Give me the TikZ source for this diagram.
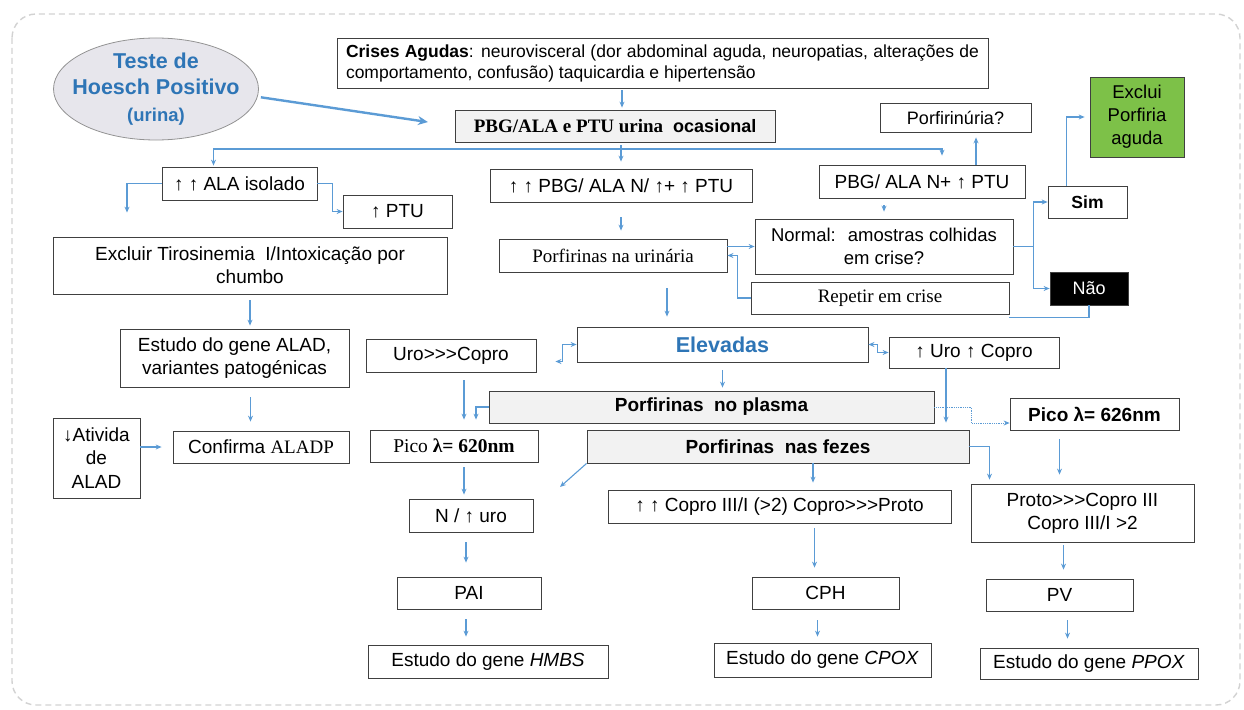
\documentclass[tikz,border=0pt]{standalone}
\usepackage{fontspec}
\setmainfont{Liberation Sans}
\setsansfont{Liberation Sans}
\newfontfamily\tnr{Liberation Serif}
\usepackage{xcolor}
\usetikzlibrary{shapes.geometric, arrows.meta, calc}

\definecolor{linkblue}{RGB}{91,155,213}
\definecolor{titleblue}{RGB}{46,117,182}
\definecolor{boxline}{RGB}{64,64,64}
\definecolor{lightfill}{RGB}{242,242,242}
\definecolor{ovalfill}{RGB}{231,230,236}
\definecolor{okgreen}{RGB}{125,193,72}
\definecolor{framegray}{RGB}{210,210,210}
\newcommand{\setsz}[2]{\fontsize{#1}{#2}\selectfont}
\newcommand{\ggg}{>{}>{}>}

\begin{document}
\begin{tikzpicture}[
  x=1pt, y=-1pt,
  box/.style     = {draw=boxline, line width=0.8pt, fill=white, align=center,
                    inner sep=2pt, font=\setsz{19}{23}},
  greybox/.style = {box, fill=lightfill},
  wh/.style 2 args = {minimum width=#1pt, minimum height=#2pt},
  link/.style    = {linkblue, line width=1.1pt},
  arrow/.style   = {link, -{Stealth[length=6pt, width=5pt]}},
  both/.style    = {link, {Stealth[length=6pt, width=5pt]}-{Stealth[length=6pt, width=5pt]}},
  bigarrow/.style= {linkblue, line width=2.4pt, -{Stealth[length=10pt, width=9pt]}}
]
  \useasboundingbox (0,0) rectangle (1244,709);
  \draw[framegray, line width=1.4pt, dash pattern=on 6pt off 4pt, rounded corners=24pt]
    (12,14) rectangle (1240,705);

  \node[ellipse, draw=gray!85, line width=0.8pt, fill=ovalfill, wh={205}{102},
        inner xsep=-22pt, inner ysep=-4pt,
        align=center, text=titleblue, font=\bfseries\setsz{21.5}{26.5}] (hoesch) at (156,89)
        {Teste de\\Hoesch Positivo\\{\setsz{18.5}{26.5}(urina)}};
  \node[box, wh={651}{50}, align=left, font=\setsz{17.5}{21}] (crises) at (662.5,63)
        {\makebox[633pt][s]{\textbf{Crises Agudas}: neurovisceral (dor abdominal aguda, neuropatias, alterações de}\\
         comportamento, confusão) taquicardia e hipertensão};
  \node[greybox, wh={320}{32}, font=\bfseries\setsz{18}{20}] (pbg) at (615,126)
        {{\tnr\setsz{19}{20}PBG/ALA e PTU urina}\ \ ocasional};

  \node[box, wh={155}{33}] (alaiso) at (239.5,183.5) {↑ ↑ ALA isolado};
  \node[box, wh={109}{33}] (ptu) at (397.5,211.5) {↑ PTU};
  \node[box, wh={394}{57}] (excluir) at (250,265.5) {Excluir Tirosinemia~ I/Intoxicação por\\chumbo};
  \node[box, wh={229}{58}] (alad) at (234.5,358) {Estudo do gene ALAD,\\variantes patogénicas};
  \node[box, wh={87}{80}, font=\setsz{19}{23.5}] (ativ) at (96.5,458) {↓Ativida\\de\\ALAD};
  \node[box, wh={176}{32}] (confirma) at (261,447) {Confirma {\tnr\setsz{19}{20}ALADP}};

  \node[box, wh={262}{33}] (pbgn) at (621,185.5) {↑ ↑ PBG/ ALA N/ ↑+ ↑ PTU};
  \node[box, wh={228}{33}, font=\tnr\setsz{19}{20}] (urin) at (613,255.5) {Porfirinas na urinária};
  \node[box, wh={151}{29}, font=\setsz{18}{20}] (porfu) at (955.5,117.5) {Porfirinúria?};
  \node[box, wh={206}{33}] (pbgn2) at (922,181.5) {PBG/ ALA N+ ↑ PTU};
  \node[box, wh={258}{55}, font=\setsz{18.5}{23}] (normal) at (884,246.5) {Normal:~ amostras colhidas\\em crise?};
  \node[box, wh={79}{32}, font=\bfseries\setsz{17.5}{20}] (sim) at (1087.5,202) {Sim};
  \node[box, wh={94}{80}, fill=okgreen, font=\setsz{18.5}{23}] (exclui) at (1137,117) {Exclui\\Porfiria\\aguda};
  \node[box, wh={78}{33}, fill=black, text=white, font=\setsz{18}{20}] (nao) at (1089,288.5) {Não};
  \node[box, wh={258}{32}, font=\tnr\setsz{19}{20}] (repetir) at (880,298) {Repetir em crise};

  \node[box, wh={291}{35}, text=titleblue, font=\bfseries\setsz{21.5}{23}] (elev) at (722.5,344.5) {Elevadas};
  \node[box, wh={170}{31}] (uroup) at (974,352.5) {↑ Uro ↑ Copro};
  \node[box, wh={170}{33}] (urocop) at (451,355.5) {Uro\ggg Copro};
  \node[greybox, wh={445}{32}, font=\bfseries\setsz{19}{20}] (plasma) at (711.5,407) {Porfirinas~ no plasma};
  \node[greybox, wh={382}{33}, font=\bfseries\setsz{19}{20}] (fezes) at (778,446.5) {Porfirinas~ nas fezes};
  \node[box, wh={169}{32}, font=\bfseries\setsz{19}{20}] (pico626) at (1094.5,414) {Pico λ= 626nm};
  \node[box, wh={168}{32}, font=\tnr\setsz{19.5}{20}] (pico620) at (454,446) {Pico \textbf{λ= 620nm}};

  \node[box, wh={124}{33}] (nuro) at (471,515.5) {N / ↑ uro};
  \node[box, wh={144}{32}] (pai) at (469,593) {PAI};
  \node[box, wh={240}{33}] (hmbs) at (488,661.5) {Estudo do gene \textit{HMBS}};
  \node[box, wh={343}{33}] (copro) at (779.5,506.5) {↑ ↑ Copro III/I (>2) Copro\ggg Proto};
  \node[box, wh={147}{32}] (cph) at (825.5,593) {CPH};
  \node[box, wh={217}{34}] (cpox) at (822.5,660) {Estudo do gene \textit{CPOX}};
  \node[box, wh={223}{58}] (proto) at (1082.5,513) {Proto\ggg Copro III\\Copro III/I >2};
  \node[box, wh={147}{32}] (pv) at (1059.5,595) {PV};
  \node[box, wh={218}{31}] (ppox) at (1089,663.5) {Estudo do gene \textit{PPOX}};

  \coordinate (split) at (620,149);
  \coordinate (fzend) at (560,487);

  \draw[bigarrow, shorten <=2pt, shorten >=27pt] ([yshift=-8pt]hoesch.east) -- (pbg.west);
  \draw[arrow, shorten <=2pt, shorten >=2pt] ([xshift=7pt]pbg.north |- crises.south) -- ([xshift=7pt]pbg.north);
  \draw[arrow, shorten <=3pt, shorten >=7pt] (pbgn.north |- pbg.south) -- (pbgn.north);
  \draw[arrow, shorten >=1pt] (split) -| ([xshift=-26pt]alaiso.north);
  \draw[arrow, shorten >=9pt] (split) -| ([xshift=20pt]pbgn2.north);
  \draw[arrow, shorten >=24pt] (alaiso.west) -| ([xshift=-123pt]excluir.north);
  \draw[arrow] (alaiso.east) -- ++(15,0) |- (ptu.west);
  \draw[arrow, shorten <=6pt, shorten >=3pt] (excluir.south) -- (excluir.south |- alad.north);
  \draw[arrow, shorten <=10pt, shorten >=9pt] ([xshift=16pt]alad.south) -- ([xshift=16pt]alad.south |- confirma.north);
  \draw[arrow, shorten >=11pt] (ativ.east |- confirma.west) -- (confirma.west);

  \draw[arrow, shorten <=15pt, shorten >=8pt] (pbgn.south) -- (pbgn.south |- urin.north);
  \draw[arrow] (normal.west -| urin.east) -- (normal.west);
  \draw[arrow] (repetir.west) -- ++(-13,0) |- (urin.east);
  \draw[arrow, shorten >=5pt] ([xshift=54pt]pbgn2.north) -- ([xshift=54pt]pbgn2.north |- porfu.south);
  \draw[arrow, shorten <=7pt, shorten >=7pt] (normal.north |- pbgn2.south) -- (normal.north);
  \draw[link] (normal.east) -- ++(20,0) coordinate (nsplit);
  \draw[arrow] (nsplit) |- (sim.west);
  \draw[arrow] (nsplit) |- (nao.west);
  \draw[arrow, shorten >=5pt] ([xshift=-21pt]sim.north) |- (exclui.west);
  \draw[link] (nao.south) |- ([yshift=-3pt]repetir.south east);

  \draw[arrow, shorten <=16pt, shorten >=10pt] ([xshift=54pt]urin.south) -- ([xshift=54pt]urin.south |- elev.north);
  \draw[both, shorten >=19pt] (elev.west) -- ++(-14,0) |- ([yshift=-6pt]urocop.east);
  \draw[both] (elev.east) -- ++(9,0) |- (uroup.west);
  \draw[arrow, shorten <=8pt, shorten >=10pt] ([xshift=13pt]urocop.south) -- ([xshift=13pt]urocop.south |- pico620.north);
  \draw[arrow, shorten >=10pt] (plasma.west) -| ([xshift=22pt]pico620.north);
  \draw[arrow, shorten <=8pt, shorten >=3pt] (elev.south) -- (elev.south |- plasma.north);
  \draw[arrow, shorten >=7pt] ([xshift=-28pt]uroup.south) -- ([xshift=-28pt]uroup.south |- fezes.north);
  \draw[arrow, line width=0.8pt, densely dotted] (plasma.east) -- ++(37,0) |- ([yshift=-9pt]pico626.west);
  \draw[arrow, shorten >=4pt] (fezes.east) -| ([xshift=-93pt]proto.north);
  \draw[arrow, shorten <=9pt, shorten >=9pt] ([xshift=-35pt]pico626.south) -- ([xshift=-35pt]pico626.south |- proto.north);
  \draw[arrow, shorten >=7pt] ([xshift=35pt]fezes.south) -- ([xshift=35pt]fezes.south |- copro.north);
  \draw[arrow] (fezes.south west) -- (fzend);

  \draw[arrow, shorten <=5pt, shorten >=4pt] ([xshift=10pt]pico620.south) -- ([xshift=10pt]pico620.south |- nuro.north);
  \draw[arrow, shorten <=10pt, shorten >=14pt] ([xshift=-5pt]nuro.south) -- ([xshift=-5pt]nuro.south |- pai.north);
  \draw[arrow, shorten <=10pt, shorten >=8pt] ([xshift=-3pt]pai.south) -- ([xshift=-3pt]pai.south |- hmbs.north);
  \draw[arrow, shorten <=5pt, shorten >=9pt] ([xshift=35pt]copro.south) -- ([xshift=35pt]copro.south |- cph.north);
  \draw[arrow, shorten <=11pt, shorten >=6pt] ([xshift=-8pt]cph.south) -- ([xshift=-8pt]cph.south |- cpox.north);
  \draw[arrow, shorten <=3pt, shorten >=9pt] ([xshift=-19pt]proto.south) -- ([xshift=-19pt]proto.south |- pv.north);
  \draw[arrow, shorten <=9pt, shorten >=9pt] ([xshift=8pt]pv.south) -- ([xshift=8pt]pv.south |- ppox.north);
\end{tikzpicture}
\end{document}
